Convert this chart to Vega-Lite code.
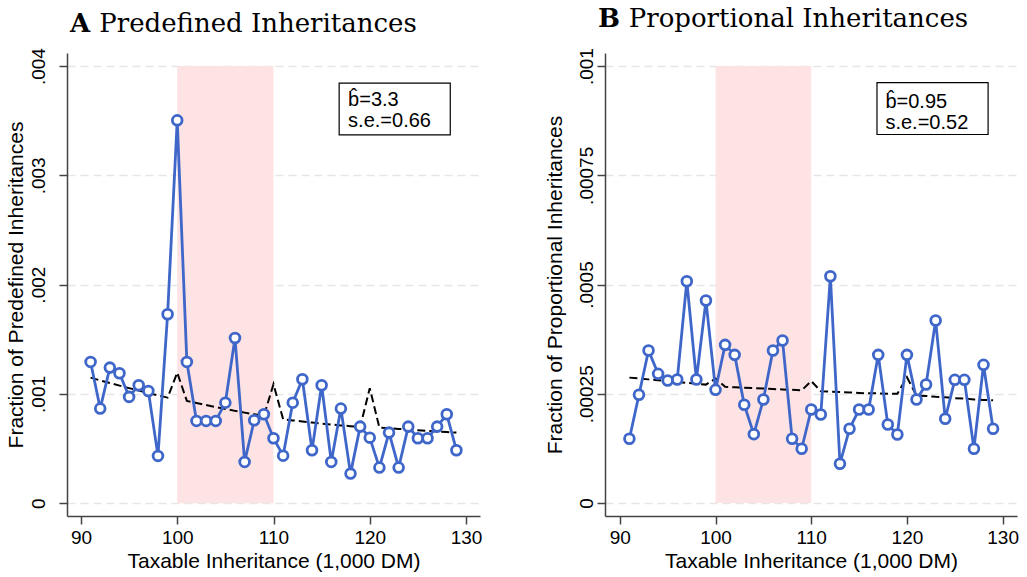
{
  "$schema": "https://vega.github.io/schema/vega-lite/v6.json",
  "description": "Bunching of inheritances around the 100,000 DM threshold, two panels",
  "background": "white",
  "padding": {"left": 4, "top": 6, "right": 5, "bottom": 5},
  "spacing": 61,
  "config": {
    "view": {"stroke": null},
    "font": "Liberation Sans",
    "axis": {
      "domainColor": "#444444",
      "domainWidth": 1.5,
      "tickColor": "#444444",
      "tickWidth": 1.5,
      "tickSize": 8,
      "labelFont": "Liberation Sans",
      "labelFontSize": 19,
      "labelColor": "black",
      "titleFont": "Liberation Sans",
      "titleFontSize": 21,
      "titleFontWeight": "normal",
      "titleColor": "black",
      "gridColor": "#e6e6e6",
      "gridDash": [8, 5],
      "gridWidth": 1.3
    }
  },
  "datasets": {
    "predef": [
      {"x": 91, "frac": 0.001293, "fit": 0.001149},
      {"x": 92, "frac": 0.000866, "fit": 0.001124},
      {"x": 93, "frac": 0.001241, "fit": 0.001100},
      {"x": 94, "frac": 0.001189, "fit": 0.001076},
      {"x": 95, "frac": 0.000973, "fit": 0.001053},
      {"x": 96, "frac": 0.001080, "fit": 0.001031},
      {"x": 97, "frac": 0.001027, "fit": 0.001009},
      {"x": 98, "frac": 0.000433, "fit": 0.000987},
      {"x": 99, "frac": 0.001729, "fit": 0.000966},
      {"x": 100, "frac": 0.003504, "fit": 0.001195},
      {"x": 101, "frac": 0.001293, "fit": 0.000936},
      {"x": 102, "frac": 0.000753, "fit": 0.000917},
      {"x": 103, "frac": 0.000753, "fit": 0.000898},
      {"x": 104, "frac": 0.000753, "fit": 0.000880},
      {"x": 105, "frac": 0.000920, "fit": 0.000862},
      {"x": 106, "frac": 0.001512, "fit": 0.000845},
      {"x": 107, "frac": 0.000378, "fit": 0.000829},
      {"x": 108, "frac": 0.000759, "fit": 0.000814},
      {"x": 109, "frac": 0.000814, "fit": 0.000799},
      {"x": 110, "frac": 0.000595, "fit": 0.001089},
      {"x": 111, "frac": 0.000435, "fit": 0.000768},
      {"x": 112, "frac": 0.000920, "fit": 0.000758},
      {"x": 113, "frac": 0.001134, "fit": 0.000748},
      {"x": 114, "frac": 0.000485, "fit": 0.000738},
      {"x": 115, "frac": 0.001080, "fit": 0.000729},
      {"x": 116, "frac": 0.000378, "fit": 0.000720},
      {"x": 117, "frac": 0.000866, "fit": 0.000712},
      {"x": 118, "frac": 0.000271, "fit": 0.000705},
      {"x": 119, "frac": 0.000701, "fit": 0.000698},
      {"x": 120, "frac": 0.000600, "fit": 0.001052},
      {"x": 121, "frac": 0.000326, "fit": 0.000692},
      {"x": 122, "frac": 0.000646, "fit": 0.000686},
      {"x": 123, "frac": 0.000326, "fit": 0.000680},
      {"x": 124, "frac": 0.000701, "fit": 0.000674},
      {"x": 125, "frac": 0.000595, "fit": 0.000668},
      {"x": 126, "frac": 0.000595, "fit": 0.000662},
      {"x": 127, "frac": 0.000701, "fit": 0.000657},
      {"x": 128, "frac": 0.000814, "fit": 0.000651},
      {"x": 129, "frac": 0.000485, "fit": 0.000646}
    ],
    "prop": [
      {"x": 91, "frac": 0.0001471, "fit": 0.000287},
      {"x": 92, "frac": 0.0002477, "fit": 0.000285},
      {"x": 93, "frac": 0.0003490, "fit": 0.000283},
      {"x": 94, "frac": 0.0002957, "fit": 0.000281},
      {"x": 95, "frac": 0.0002804, "fit": 0.000279},
      {"x": 96, "frac": 0.0002827, "fit": 0.000277},
      {"x": 97, "frac": 0.0005076, "fit": 0.000275},
      {"x": 98, "frac": 0.0002827, "fit": 0.000273},
      {"x": 99, "frac": 0.0004634, "fit": 0.000271},
      {"x": 100, "frac": 0.0002591, "fit": 0.000285},
      {"x": 101, "frac": 0.0003620, "fit": 0.000266},
      {"x": 102, "frac": 0.0003391, "fit": 0.000265},
      {"x": 103, "frac": 0.0002248, "fit": 0.000264},
      {"x": 104, "frac": 0.0001576, "fit": 0.000263},
      {"x": 105, "frac": 0.0002369, "fit": 0.000262},
      {"x": 106, "frac": 0.0003490, "fit": 0.000261},
      {"x": 107, "frac": 0.0003719, "fit": 0.000260},
      {"x": 108, "frac": 0.0001471, "fit": 0.000259},
      {"x": 109, "frac": 0.0001242, "fit": 0.000258},
      {"x": 110, "frac": 0.0002141, "fit": 0.000279},
      {"x": 111, "frac": 0.0002026, "fit": 0.000256},
      {"x": 112, "frac": 0.0005190, "fit": 0.000255},
      {"x": 113, "frac": 0.0000899, "fit": 0.000254},
      {"x": 114, "frac": 0.0001699, "fit": 0.000253},
      {"x": 115, "frac": 0.0002141, "fit": 0.000252},
      {"x": 116, "frac": 0.0002141, "fit": 0.000251},
      {"x": 117, "frac": 0.0003391, "fit": 0.000251},
      {"x": 118, "frac": 0.0001798, "fit": 0.000250},
      {"x": 119, "frac": 0.0001569, "fit": 0.000250},
      {"x": 120, "frac": 0.0003391, "fit": 0.000288},
      {"x": 121, "frac": 0.0002369, "fit": 0.000246},
      {"x": 122, "frac": 0.0002713, "fit": 0.000245},
      {"x": 123, "frac": 0.0004177, "fit": 0.000243},
      {"x": 124, "frac": 0.0001928, "fit": 0.000242},
      {"x": 125, "frac": 0.0002820, "fit": 0.000240},
      {"x": 126, "frac": 0.0002820, "fit": 0.000239},
      {"x": 127, "frac": 0.0001242, "fit": 0.000237},
      {"x": 128, "frac": 0.0003163, "fit": 0.000236},
      {"x": 129, "frac": 0.0001699, "fit": 0.000235}
    ]
  },
  "hconcat": [
    {
      "width": 413,
      "height": 463,
      "encoding": {
        "x": {
          "field": "x",
          "type": "quantitative",
          "scale": {"domain": [88.55, 131.45], "nice": false, "zero": false},
          "axis": {"values": [90, 100, 110, 120, 130], "grid": false, "title": "Taxable Inheritance (1,000 DM)", "labelPadding": 4, "titlePadding": 3}
        },
        "y": {
          "type": "quantitative",
          "scale": {"domain": [-0.000117, 0.00412], "nice": false, "zero": false},
          "axis": {
            "values": [0, 0.001, 0.002, 0.003, 0.004],
            "grid": true,
            "title": "Fraction of Predefined Inheritances",
            "labelAngle": -90,
            "labelAlign": "center",
            "labelBaseline": "bottom",
            "labelPadding": 11,
            "titlePadding": 3,
            "labelExpr": "datum.value == 0 ? '0' : replace(toString(datum.value), '0.', '.')"
          }
        }
      },
      "layer": [
        {
          "data": {"values": [{"lo": 100, "hi": 110, "bottom": 0, "top": 0.004}]},
          "mark": {"type": "rect", "color": "#fde3e3"},
          "encoding": {
            "x": {"field": "lo", "type": "quantitative"},
            "x2": {"field": "hi"},
            "y": {"field": "bottom", "type": "quantitative"},
            "y2": {"field": "top"}
          }
        },
        {
          "data": {"name": "predef"},
          "mark": {"type": "line", "color": "black", "strokeWidth": 2, "strokeDash": [8, 4]},
          "encoding": {"y": {"field": "fit", "type": "quantitative"}}
        },
        {
          "data": {"name": "predef"},
          "mark": {"type": "line", "color": "#3f66c9", "strokeWidth": 2.8},
          "encoding": {"y": {"field": "frac", "type": "quantitative"}}
        },
        {
          "data": {"name": "predef"},
          "mark": {"type": "point", "shape": "circle", "filled": false, "fill": "white", "stroke": "#3f66c9", "strokeWidth": 2.8, "size": 95, "opacity": 1},
          "encoding": {"y": {"field": "frac", "type": "quantitative"}}
        },
        {
          "data": {"values": [{"lo": 116.82, "hi": 128.36, "bottom": 0.00337, "top": 0.003845}]},
          "mark": {"type": "rect", "fill": "white", "stroke": "black", "strokeWidth": 1.2},
          "encoding": {
            "x": {"field": "lo", "type": "quantitative"},
            "x2": {"field": "hi"},
            "y": {"field": "bottom", "type": "quantitative"},
            "y2": {"field": "top"}
          }
        },
        {
          "data": {"values": [
            {"label": "b\u0302=3.3", "tx": 117.75, "ty": 0.003632},
            {"label": "s.e.=0.66", "tx": 117.75, "ty": 0.003440}
          ]},
          "mark": {"type": "text", "align": "left", "baseline": "alphabetic", "fontSize": 20, "font": "Liberation Sans", "color": "black"},
          "encoding": {
            "x": {"field": "tx", "type": "quantitative"},
            "y": {"field": "ty", "type": "quantitative"},
            "text": {"field": "label"}
          }
        },
        {
          "data": {"values": [{"label": "A", "tx": 88.86, "ty": 0.004312}]},
          "mark": {"type": "text", "align": "left", "baseline": "alphabetic", "fontSize": 26, "font": "DejaVu Serif", "fontWeight": "bold", "color": "black"},
          "encoding": {
            "x": {"field": "tx", "type": "quantitative"},
            "y": {"field": "ty", "type": "quantitative"},
            "text": {"field": "label"}
          }
        },
        {
          "data": {"values": [{"label": "Predefined Inheritances", "tx": 91.9, "ty": 0.004312}]},
          "mark": {"type": "text", "align": "left", "baseline": "alphabetic", "fontSize": 26, "font": "DejaVu Serif", "color": "black"},
          "encoding": {
            "x": {"field": "tx", "type": "quantitative"},
            "y": {"field": "ty", "type": "quantitative"},
            "text": {"field": "label"}
          }
        }
      ]
    },
    {
      "width": 412,
      "height": 463,
      "encoding": {
        "x": {
          "field": "x",
          "type": "quantitative",
          "scale": {"domain": [88.45, 131.5], "nice": false, "zero": false},
          "axis": {"values": [90, 100, 110, 120, 130], "grid": false, "title": "Taxable Inheritance (1,000 DM)", "labelPadding": 4, "titlePadding": 3}
        },
        "y": {
          "type": "quantitative",
          "scale": {"domain": [-0.0000297, 0.00103], "nice": false, "zero": false},
          "axis": {
            "values": [0, 0.00025, 0.0005, 0.00075, 0.001],
            "grid": true,
            "title": "Fraction of Proportional Inheritances",
            "labelAngle": -90,
            "labelAlign": "center",
            "labelBaseline": "bottom",
            "labelPadding": 1,
            "titlePadding": 12,
            "labelExpr": "datum.value == 0 ? '0' : replace(toString(datum.value), '0.', '.')"
          }
        }
      },
      "layer": [
        {
          "data": {"values": [{"lo": 100, "hi": 110, "bottom": 0, "top": 0.001}]},
          "mark": {"type": "rect", "color": "#fde3e3"},
          "encoding": {
            "x": {"field": "lo", "type": "quantitative"},
            "x2": {"field": "hi"},
            "y": {"field": "bottom", "type": "quantitative"},
            "y2": {"field": "top"}
          }
        },
        {
          "data": {"name": "prop"},
          "mark": {"type": "line", "color": "black", "strokeWidth": 2, "strokeDash": [8, 4]},
          "encoding": {"y": {"field": "fit", "type": "quantitative"}}
        },
        {
          "data": {"name": "prop"},
          "mark": {"type": "line", "color": "#3f66c9", "strokeWidth": 2.8},
          "encoding": {"y": {"field": "frac", "type": "quantitative"}}
        },
        {
          "data": {"name": "prop"},
          "mark": {"type": "point", "shape": "circle", "filled": false, "fill": "white", "stroke": "#3f66c9", "strokeWidth": 2.8, "size": 95, "opacity": 1},
          "encoding": {"y": {"field": "frac", "type": "quantitative"}}
        },
        {
          "data": {"values": [{"lo": 116.87, "hi": 128.48, "bottom": 0.0008435, "top": 0.000962}]},
          "mark": {"type": "rect", "fill": "white", "stroke": "black", "strokeWidth": 1.2},
          "encoding": {
            "x": {"field": "lo", "type": "quantitative"},
            "x2": {"field": "hi"},
            "y": {"field": "bottom", "type": "quantitative"},
            "y2": {"field": "top"}
          }
        },
        {
          "data": {"values": [
            {"label": "b\u0302=0.95", "tx": 117.75, "ty": 0.0009040},
            {"label": "s.e.=0.52", "tx": 117.75, "ty": 0.0008560}
          ]},
          "mark": {"type": "text", "align": "left", "baseline": "alphabetic", "fontSize": 20, "font": "Liberation Sans", "color": "black"},
          "encoding": {
            "x": {"field": "tx", "type": "quantitative"},
            "y": {"field": "ty", "type": "quantitative"},
            "text": {"field": "label"}
          }
        },
        {
          "data": {"values": [{"label": "B", "tx": 87.72, "ty": 0.0010885}]},
          "mark": {"type": "text", "align": "left", "baseline": "alphabetic", "fontSize": 26, "font": "DejaVu Serif", "fontWeight": "bold", "color": "black"},
          "encoding": {
            "x": {"field": "tx", "type": "quantitative"},
            "y": {"field": "ty", "type": "quantitative"},
            "text": {"field": "label"}
          }
        },
        {
          "data": {"values": [{"label": "Proportional Inheritances", "tx": 90.93, "ty": 0.0010885}]},
          "mark": {"type": "text", "align": "left", "baseline": "alphabetic", "fontSize": 26, "font": "DejaVu Serif", "color": "black"},
          "encoding": {
            "x": {"field": "tx", "type": "quantitative"},
            "y": {"field": "ty", "type": "quantitative"},
            "text": {"field": "label"}
          }
        }
      ]
    }
  ]
}
